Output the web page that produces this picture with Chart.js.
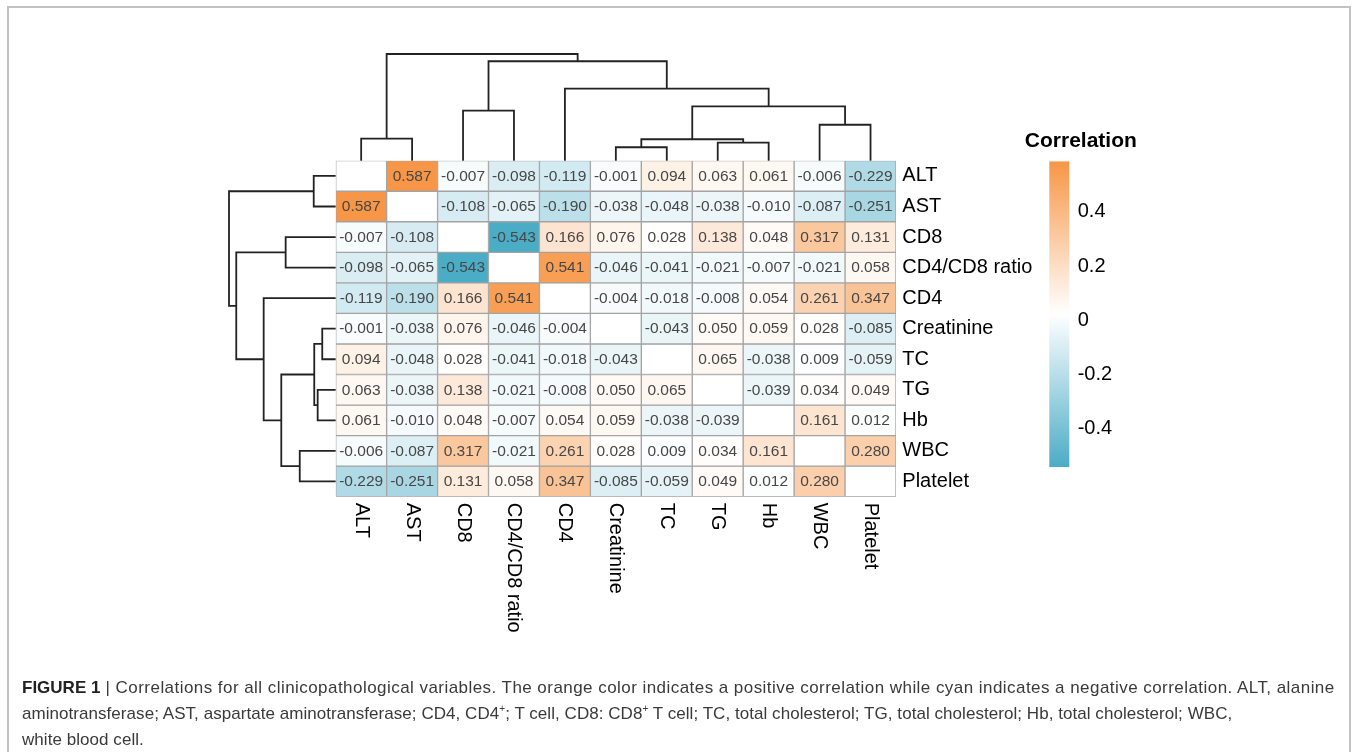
<!DOCTYPE html>
<html>
<head>
<meta charset="utf-8">
<script src="https://cdn.jsdelivr.net/npm/chart.js@4.4.1/dist/chart.umd.min.js"></script>
<style>
  body { margin: 0; background: #fff; font-family: "Liberation Sans", Arial, sans-serif; }
  #frame { position: absolute; left: 7px; top: 6px; width: 1340px; height: 800px; border: 2px solid #c2c2c2; }
  #wrap { position: absolute; left: 0; top: 0; width: 1357px; height: 752px; }
  #caption { position: absolute; left: 22px; top: 675px; font-size: 17px; line-height: 26px; color: #3a3a3a; white-space: nowrap; }
  #caption b { color: #222; letter-spacing: 0; }
  #caption sup { font-size: 10px; line-height: 0; }
  .l1 { letter-spacing: 0.45px; }
  .l2 { letter-spacing: 0.05px; }
</style>
</head>
<body>
<div id="frame"></div>
<div id="wrap"><canvas id="canvas" width="1357" height="752"></canvas></div>
<div id="caption"><span class="l1"><b>FIGURE 1</b> | Correlations for all clinicopathological variables. The orange color indicates a positive correlation while cyan indicates a negative correlation. ALT, alanine</span><br><span class="l2">aminotransferase; AST, aspartate aminotransferase; CD4, CD4<sup>+</sup>; T cell, CD8: CD8<sup>+</sup> T cell; TC, total cholesterol; TG, total cholesterol; Hb, total cholesterol; WBC,</span><br><span class="l2">white blood cell.</span></div>
<script>
// variables, in clustered order (same for rows and columns)
const labels = ['ALT', 'AST', 'CD8', 'CD4/CD8 ratio', 'CD4', 'Creatinine', 'TC', 'TG', 'Hb', 'WBC', 'Platelet'];

// correlation rows (null = diagonal, left blank)
const rowALT        = [null, 0.587, -0.007, -0.098, -0.119, -0.001, 0.094, 0.063, 0.061, -0.006, -0.229];
const rowAST        = [0.587, null, -0.108, -0.065, -0.190, -0.038, -0.048, -0.038, -0.010, -0.087, -0.251];
const rowCD8        = [-0.007, -0.108, null, -0.543, 0.166, 0.076, 0.028, 0.138, 0.048, 0.317, 0.131];
const rowRatio      = [-0.098, -0.065, -0.543, null, 0.541, -0.046, -0.041, -0.021, -0.007, -0.021, 0.058];
const rowCD4        = [-0.119, -0.190, 0.166, 0.541, null, -0.004, -0.018, -0.008, 0.054, 0.261, 0.347];
const rowCreatinine = [-0.001, -0.038, 0.076, -0.046, -0.004, null, -0.043, 0.050, 0.059, 0.028, -0.085];
const rowTC         = [0.094, -0.048, 0.028, -0.041, -0.018, -0.043, null, 0.065, -0.038, 0.009, -0.059];
const rowTG         = [0.063, -0.038, 0.138, -0.021, -0.008, 0.050, 0.065, null, -0.039, 0.034, 0.049];
const rowHb         = [0.061, -0.010, 0.048, -0.007, 0.054, 0.059, -0.038, -0.039, null, 0.161, 0.012];
const rowWBC        = [-0.006, -0.087, 0.317, -0.021, 0.261, 0.028, 0.009, 0.034, 0.161, null, 0.280];
const rowPlatelet   = [-0.229, -0.251, 0.131, 0.058, 0.347, -0.085, -0.059, 0.049, 0.012, 0.280, null];

// hierarchical clustering (hclust style: negative = leaf -(i+1), positive = earlier merge step)
const mergeA = [-6, -8, 1, -1, -10, -3, 3, -5, 6, 4];
const mergeB = [-7, -9, 2, -2, -11, -4, 5, 7, 8, 9];
const mergeHeight = [0.126, 0.169, 0.201, 0.206, 0.337, 0.469, 0.510, 0.675, 0.932, 1.0];

// colour bar ticks
const legendTicks = [-0.4, -0.2, 0, 0.2, 0.4];

const rows = [rowALT, rowAST, rowCD8, rowRatio, rowCD4, rowCreatinine, rowTC, rowTG, rowHb, rowWBC, rowPlatelet];
const allVals = rows.flat().filter(v => v !== null);
const minV = Math.min(...allVals), maxV = Math.max(...allVals);

const FONT = '"Liberation Sans", Arial, sans-serif';
const cyan = [75, 172, 198], white = [255, 255, 255], orange = [247, 150, 70];

function mix(a, b, t) {
  return 'rgb(' + a.map((c, k) => Math.round(c + (b[k] - c) * t)).join(',') + ')';
}
function cellColor(v) {
  if (v === null) return '#ffffff';
  const t = (v - minV) / (maxV - minV);
  return t < 0.5 ? mix(cyan, white, t * 2) : mix(white, orange, (t - 0.5) * 2);
}

// chart area geometry
const area = { left: 335.7, top: 160.7, right: 896, bottom: 496.7 };
const areaW = area.right - area.left, areaH = area.bottom - area.top;
const dendroPx = 106.7;        // pixels for a merge height of 1
const barPx = 270.5;           // colour-bar pixels per correlation unit
const cbTop = 160;

// heatmap rows as stacked bars
const heatSets = rows.map((r, i) => ({
  type: 'bar',
  label: labels[i],
  data: r.map(() => 1),
  backgroundColor: r.map(cellColor),
  borderColor: '#a3a3a3',
  borderWidth: 1,
  borderSkipped: false,
  grouped: false,
  barPercentage: 1,
  categoryPercentage: 1,
  xAxisID: 'x',
  yAxisID: 'y'
}));

// dendrogram links
function buildLinks(xId, yId, swap) {
  const nodes = [];
  const sets = [];
  const get = ref => ref < 0 ? { p: -ref - 1, h: 0 } : nodes[ref - 1];
  mergeA.forEach((a, k) => {
    const A = get(a), B = get(mergeB[k]), h = mergeHeight[k];
    nodes.push({ p: (A.p + B.p) / 2, h: h });
    const pts = [[A.p, A.h], [A.p, h], [B.p, h], [B.p, B.h]];
    sets.push({
      type: 'line',
      data: pts.map(q => swap ? { x: q[1], y: q[0] } : { x: q[0], y: q[1] }),
      borderColor: '#222222',
      borderWidth: 1.8,
      borderJoinStyle: 'miter',
      pointRadius: 0,
      fill: false,
      tension: 0,
      clip: false,
      xAxisID: xId,
      yAxisID: yId
    });
  });
  return sets;
}

const legendPlugin = {
  id: 'heatExtras',
  afterDatasetsDraw(chart) {
    const ctx = chart.ctx;
    ctx.save();
    // cell numbers
    ctx.font = '15.5px ' + FONT;
    ctx.fillStyle = '#474747';
    ctx.textAlign = 'center';
    ctx.textBaseline = 'middle';
    rows.forEach((r, i) => {
      const meta = chart.getDatasetMeta(i);
      meta.data.forEach((bar, j) => {
        if (r[j] === null) return;
        ctx.fillText(r[j].toFixed(3), bar.x, (bar.y + bar.base) / 2 + 0.5);
      });
    });
    // column labels, rotated
    const xs = chart.scales.x;
    ctx.font = '20px ' + FONT;
    ctx.fillStyle = '#000';
    ctx.textAlign = 'left';
    labels.forEach((lab, j) => {
      ctx.save();
      ctx.translate(xs.getPixelForValue(j), chart.chartArea.bottom + 6);
      ctx.rotate(Math.PI / 2);
      ctx.fillText(lab, 0, 0);
      ctx.restore();
    });
    // colour bar
    const cb = chart.scales.cb;
    const y0 = cb.getPixelForValue(maxV), y1 = cb.getPixelForValue(minV);
    const g = ctx.createLinearGradient(0, y0, 0, y1);
    g.addColorStop(0, mix(white, orange, 1));
    g.addColorStop(0.5, '#ffffff');
    g.addColorStop(1, mix(cyan, white, 0));
    ctx.fillStyle = g;
    ctx.fillRect(cb.left, y0, 20, y1 - y0);
    ctx.font = 'bold 21px ' + FONT;
    ctx.fillStyle = '#000';
    ctx.textAlign = 'left';
    ctx.fillText('Correlation', cb.left - 24.5, 141);
    ctx.restore();
  }
};

const data = {
  labels: labels,
  datasets: heatSets.concat(buildLinks('dTopX', 'dTopY', false), buildLinks('dLeftX', 'dLeftY', true))
};

const config = {
  type: 'bar',
  data: data,
  options: {
    responsive: false,
    animation: false,
    devicePixelRatio: 1,
    layout: { padding: { left: area.left, top: area.top, right: 0, bottom: 752 - area.bottom } },
    plugins: { legend: { display: false }, tooltip: { enabled: false }, title: { display: false } },
    scales: {
      x: { display: false, stacked: true },
      y: { display: false, stacked: true, reverse: true, min: 0, max: labels.length },
      yLab: {
        type: 'category',
        position: 'right',
        labels: labels,
        offset: true,
        grid: { display: false, drawTicks: false },
        border: { display: false },
        ticks: { padding: 6.3, color: '#000', font: { size: 20, family: FONT }, autoSkip: false },
        afterFit: s => { s.width = 1049.3 - area.right; }
      },
      cb: {
        type: 'linear',
        position: 'right',
        max: maxV + (area.top - cbTop) / barPx,
        min: maxV + (area.top - cbTop) / barPx - areaH / barPx,
        grid: { display: false, drawTicks: false },
        border: { display: false },
        afterBuildTicks: s => { s.ticks = legendTicks.map(v => ({ value: v })); },
        ticks: {
          padding: 28.4, color: '#000', autoSkip: false,
          font: { size: 20, family: FONT },
          callback: v => v === 0 ? '0' : v.toFixed(1)
        },
        afterFit: s => { s.width = 1357 - 1049.3; }
      },
      dTopX: { type: 'linear', axis: 'x', display: false, offset: false, min: -0.5, max: labels.length - 0.5 },
      dTopY: { type: 'linear', axis: 'y', display: false, offset: false, beginAtZero: false, min: -areaH / dendroPx, max: 0 },
      dLeftX: { type: 'linear', axis: 'x', display: false, offset: false, reverse: true, min: -areaW / dendroPx, max: 0 },
      dLeftY: { type: 'linear', axis: 'y', display: false, offset: false, beginAtZero: false, reverse: true, min: -0.5, max: labels.length - 0.5 }
    }
  },
  plugins: [legendPlugin]
};

const canvas = document.getElementById('canvas');
const chart = new Chart(canvas, config);
</script>
</body>
</html>
